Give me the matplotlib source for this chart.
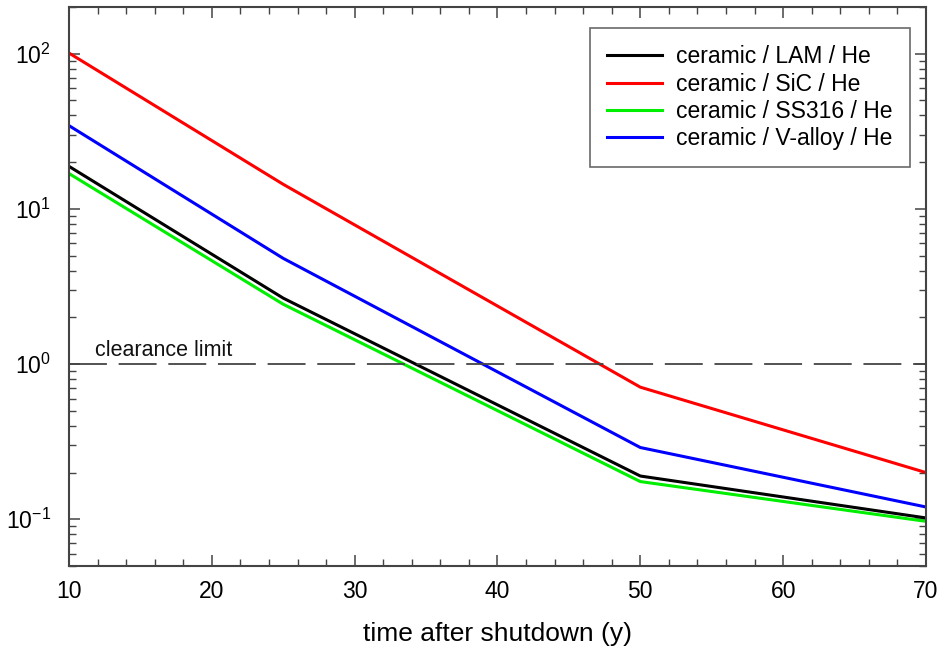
import matplotlib
matplotlib.use("Agg")
import matplotlib.pyplot as plt
from matplotlib.ticker import LogLocator, MultipleLocator, NullFormatter, FixedLocator

plt.rcParams["font.family"] = ["Liberation Sans", "DejaVu Sans"]
plt.rcParams["mathtext.fontset"] = "custom"
plt.rcParams["mathtext.rm"] = "Liberation Sans"
plt.rcParams["mathtext.it"] = "Liberation Sans"

# time after shutdown (years)
years = [10, 25, 50, 70]

lam_he = [18.8, 2.66, 0.19, 0.102]
sic_he = [101, 14.4, 0.71, 0.20]
ss316_he = [16.9, 2.43, 0.175, 0.097]
valloy_he = [34.4, 4.8, 0.29, 0.12]

series = [
    ("ceramic / LAM / He", lam_he, "#000000"),
    ("ceramic / SiC / He", sic_he, "#ff0000"),
    ("ceramic / SS316 / He", ss316_he, "#00ee00"),
    ("ceramic / V-alloy / He", valloy_he, "#0000ff"),
]

clearance = 1.0

fig = plt.figure(figsize=(9.53, 6.5), dpi=100)
ax = fig.add_axes([69 / 953, 1 - 566 / 650, (926 - 69) / 953, (566 - 7) / 650])

for label, vals, color in series:
    ax.plot(years, vals, color=color, lw=2.2, label=label)

ax.axhline(clearance, color="#444444", lw=1.3, dashes=(21, 6.5))
ax.text(11.8, clearance * 1.05, "clearance limit", fontsize=15.5, color="#111111", va="bottom")

ax.set_yscale("log")
ax.set_xlim(10, 70)
ax.set_ylim(0.05, 200)

ax.xaxis.set_major_locator(MultipleLocator(10))
ax.xaxis.set_minor_locator(MultipleLocator(2))
ax.yaxis.set_major_locator(FixedLocator([0.1, 1, 10, 100]))
ax.yaxis.set_minor_locator(LogLocator(base=10, subs=range(2, 10)))
ax.yaxis.set_minor_formatter(NullFormatter())
ax.set_yticklabels([r"$10^{-1}$", r"$10^{0}$", r"$10^{1}$", r"$10^{2}$"])

ax.tick_params(which="both", direction="in", top=True, right=True, color="#444444")
ax.tick_params(which="major", length=8, width=1.1, labelsize=16.5)
ax.tick_params(axis="x", which="major", pad=10)
ax.tick_params(axis="y", which="major", pad=13)
ax.tick_params(which="minor", length=5, width=1.0)
for sp in ax.spines.values():
    sp.set_color("#444444")
    sp.set_linewidth(1.5)

ax.set_xlabel("time after shutdown (y)", fontsize=19, labelpad=14)

leg = ax.legend(loc="upper right", bbox_to_anchor=(0.981, 0.962), fontsize=16.5,
                frameon=True, fancybox=False, edgecolor="#444444", handlelength=2.4,
                handletextpad=0.6, labelspacing=0.18, borderpad=0.75, borderaxespad=0.0)
leg.get_frame().set_linewidth(1.2)

fig.savefig("out.png", dpi=100)
